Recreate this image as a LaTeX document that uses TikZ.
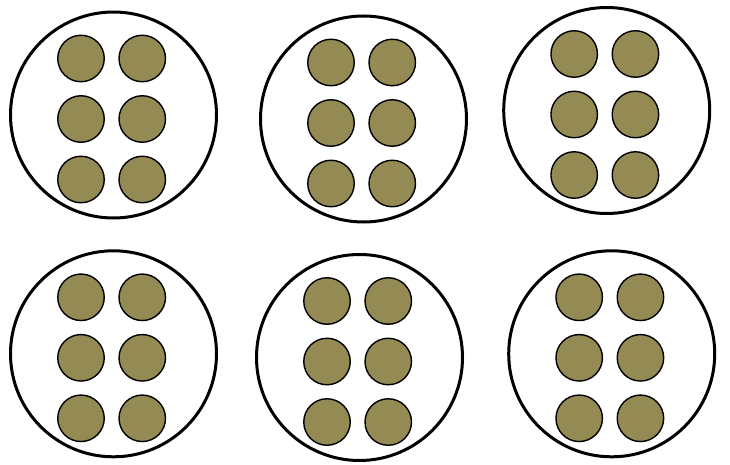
\documentclass[tikz,border=0pt]{standalone}
\definecolor{ballolive}{HTML}{948A54}
\begin{document}
\begin{tikzpicture}[x=1pt,y=-1pt,
  pot/.style={circle,draw,line width=3pt,minimum size=206pt,inner sep=0pt},
  ball/.style={circle,draw,fill=ballolive,line width=1.4pt,minimum size=46.5pt,inner sep=0pt}]
  \useasboundingbox (0,0) rectangle (730,465);
  \foreach \x/\y/\n in {113.5/115/1,363.5/119/2,606.7/110.5/3,113.5/353.8/4,359.5/357.5/5,611.7/353.8/6}{
    \node[pot] (g\n) at (\x,\y) {};
    \foreach \dx/\c in {-32.5/l,28.75/r}
      \foreach \dy/\r in {-56.5/a,4/b,64.5/c}
        \node[ball] (g\n\c\r) at (\x+\dx,\y+\dy) {};}
\end{tikzpicture}
\end{document}
